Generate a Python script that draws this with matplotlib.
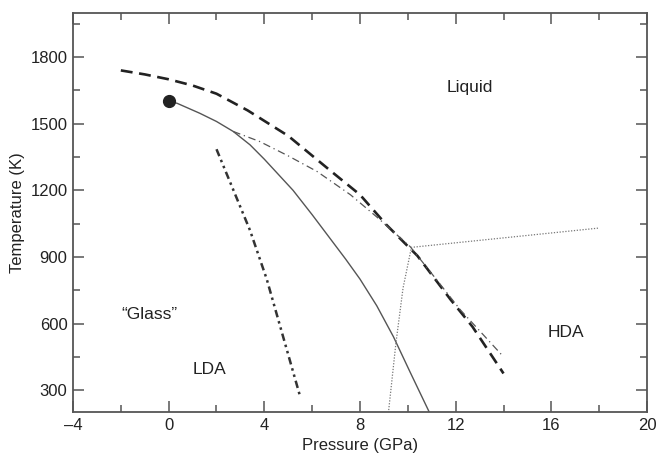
import matplotlib
matplotlib.use("Agg")
import matplotlib.pyplot as plt
from matplotlib.ticker import MultipleLocator

plt.rcParams['font.family'] = ['Liberation Sans', 'DejaVu Sans']

# values (pressure in GPa, temperature in K)
liquidus_p = [-2, -1, 0, 1, 2, 3.3, 5, 6.8, 8, 9.1, 10.4, 11.8, 12.7, 14]
liquidus_t = [1740, 1722, 1700, 1672, 1635, 1560, 1445, 1285, 1180, 1045, 905, 706, 586, 375]

solid_p = [0, 0.35, 1.3, 2, 2.7, 3.4, 4.0, 5.2, 6.0, 6.7, 7.4, 8, 8.7, 9.4, 10.1, 10.9]
solid_t = [1600, 1592, 1547, 1510, 1465, 1405, 1340, 1200, 1090, 990, 890, 800, 680, 540, 380, 200]

dashdot_p = [2.7, 3.8, 5, 6.2, 7.6, 8.7, 10.1, 11.1, 12.2, 14]
dashdot_t = [1465, 1420, 1355, 1285, 1180, 1080, 946, 811, 661, 450]

lda_p = [2.0, 3.4, 4.1, 5.5]
lda_t = [1385, 1020, 800, 270]

dotted_p = [9.2, 9.5, 9.8, 10.15, 18]
dotted_t = [210, 510, 760, 943, 1030]

critical_point = (0, 1600)

x_ticks = [-4, 0, 4, 8, 12, 16, 20]
x_ticklabels = ['\u20134', '0', '4', '8', '12', '16', '20']
y_ticks = [300, 600, 900, 1200, 1500, 1800]

labels = ["Liquid", "HDA", "\u201cGlass\u201d", "LDA"]
label_p = [12.6, 16.6, -0.8, 1.7]
label_t = [1665, 560, 641, 391]

fig = plt.figure(figsize=(6.57, 4.61), dpi=100)
ax = fig.add_axes([0.1111, 0.1056, 0.8737, 0.8669])

ax.plot(liquidus_p, liquidus_t, color='#222222', lw=1.9, dashes=(4.5, 2.5))
ax.plot(solid_p, solid_t, color='#555555', lw=1.0)
ax.plot(dashdot_p, dashdot_t, color='#555555', lw=0.9, dashes=(6, 3, 1, 3))
ax.plot(lda_p, lda_t, color='#333333', lw=1.8, dashes=(3, 1.6, 1, 1.6, 1, 1.6))
ax.plot(dotted_p, dotted_t, color='#777777', lw=0.9, dashes=(1, 1.3))
ax.plot(*critical_point, 'o', color='#222222', markersize=8.5)

for txt, p, t in zip(labels, label_p, label_t):
    ax.text(p, t, txt, ha='center', va='center', fontsize=12.5, color='#222222')

ax.set_xlim(-4, 20)
ax.set_ylim(200, 2000)
ax.set_xticks(x_ticks, x_ticklabels)
ax.xaxis.set_minor_locator(MultipleLocator(2))
ax.set_yticks(y_ticks)
ax.yaxis.set_minor_locator(MultipleLocator(150))

ax.tick_params(which='both', direction='in', top=True, right=True, color='#555555',
               labelsize=12, labelcolor='#222222', pad=4)
ax.tick_params(which='major', length=8, width=1.1)
ax.tick_params(which='minor', length=5, width=1.1)
for s in ax.spines.values():
    s.set_color('#555555')
    s.set_linewidth(1.3)

ax.set_xlabel('Pressure (GPa)', fontsize=12, color='#222222', labelpad=4)
ax.set_ylabel('Temperature (K)', fontsize=12, color='#222222', labelpad=4)

fig.savefig('out.png', dpi=100)
